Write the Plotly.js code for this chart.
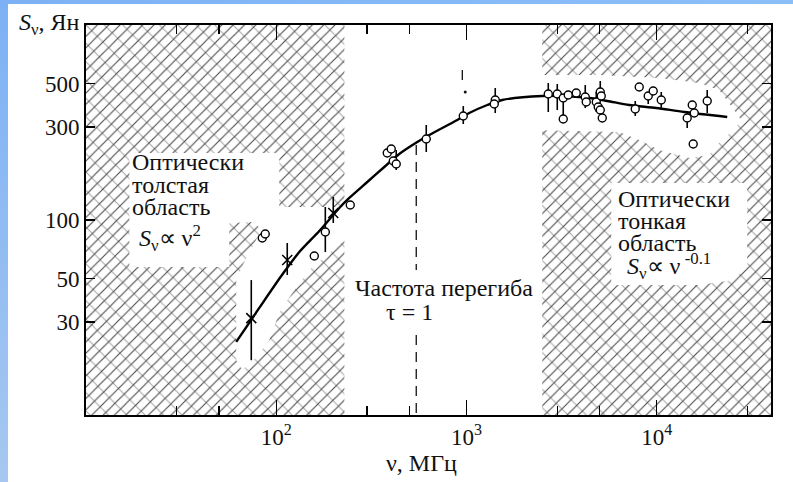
<!DOCTYPE html>
<html>
<head>
<meta charset="utf-8">
<script src="https://cdn.plot.ly/plotly-3.0.1.min.js"></script>
<style>
html,body{margin:0;padding:0;}
body{
  width:793px;height:482px;overflow:hidden;
  background:
    linear-gradient(to bottom,#7db1f5,#a6c8f0) left top/8px 100% no-repeat,
    linear-gradient(to right,#7db1f5,#8cbff8) left top/100% 4px no-repeat,
    #ffffff;
}
#chart{width:793px;height:482px;}
</style>
</head>
<body>
<div id="chart"></div>
<script>
// ---------- data (ν in MHz, S in Jy) ----------
// fitted spectrum curve
const curveNu = [61.6, 81.4, 106.2, 132.1, 168.3, 214.4, 241.9, 300.8, 369.5, 442.9, 550.8, 636.8, 893.7, 1033, 1285, 1540, 2499, 3070, 4414, 5489, 7161, 9929, 13930, 23440];
const curveS  = [23.7, 35.4, 51.6, 68.5, 87.8, 115.2, 129.7, 156.6, 187.0, 218.1, 251.2, 272.9, 325.7, 353.8, 388.8, 412.6, 432.4, 432.4, 422.3, 407.7, 388.8, 375.4, 358, 337.5];

// circle measurements
const circNu = [84.4, 87.5, 158.4, 181, 244.8, 383, 402, 412, 427, 614, 961, 1415, 1398, 2688, 2997, 3222, 3422, 3222, 3771, 4205, 4256, 4805, 5043, 5104, 4920, 5043, 5167, 7700, 8080, 9010, 9570, 10550, 15350, 15730, 14440, 18400, 15530];
const circS  = [80.9, 84.8, 65.4, 86.8, 119.4, 220.6, 231.3, 200.7, 193.8, 260.3, 341.6, 412.6, 393.5, 442.8, 442.8, 422.3, 437.5, 329.6, 448, 427, 402.9, 402.9, 453.4, 432.4, 379.8, 366.6, 333.5, 371, 481, 432.4, 458.7, 412.6, 388.8, 353.8, 333.5, 407.7, 245.3];
// error bar upper / lower limits (null = no bar on that side)
const circHi = [null, null, null, 116.6, null, null, null, null, 228.6, 307, 384, 475, null, 504, 498, null, null, 427, null, 492.4, null, 453.4, 516, null, null, null, null, 407.7, null, null, null, 453.4, null, null, 362.4, 464.2, null];
const circLo = [null, null, null, 68.5, null, null, null, null, 180.5, 223.3, 310.7, 353.8, null, 358, 366.6, null, null, null, null, 375.4, null, 358, null, null, null, null, null, 341.6, null, 393.5, null, 375.4, null, null, 296.4, 353.8, null];

// cross measurements
const crossNu = [73.9, 114.2, 199.3];
const crossS  = [31.4, 62.4, 108.6];
const crossHi = [49.2, 76.2, 131.2];
const crossLo = [19.1, 52.2, 96.5];

// turnover frequency (τ = 1) marker
const turnNu = [544, 544, null, 544, 544];
const turnS  = [242.4, 55.4, null, 25.7, 10];
const markNu = [950, 950];
const markS  = [588, 522];
const dotNu = [984];
const dotS  = [453];

// shaded regions (optically thick, left; optically thin, right)
const thickRegionNu = [10, 228, 228, 10];
const thickRegionS  = [10, 10, 1000, 1000];
const thickClearNu = [16.9, 103.7, 103.7, 230.5, 230.5, 154.6, 127.4, 103.7, 91.9, 78.5, 66.3, 61.6, 61.6, 67.9, 83.4, 76.6, 56.6, 56.6, 16.9];
const thickClearS  = [220.6, 220.6, 116.6, 116.6, 79.0, 57.4, 45.3, 33.4, 24.2, 19.8, 17.0, 19.1, 49.2, 60.9, 88.9, 97.7, 96.5, 57.4, 57.4];

const thinRegionNu = [2499, 40000, 40000, 2499];
const thinRegionS  = [10, 10, 1000, 1000];
const thinChannelNu = [2135, 4981, 10295, 16700, 21280, 25510, 27770, 25510, 21800, 18860, 14800, 10295, 8080, 6344, 2135];
const thinChannelS  = [554, 554, 534.8, 504.1, 464.2, 366.6, 325.7, 289.4, 257.2, 215.4, 207.9, 228.6, 257.2, 282.7, 289.4];
const thinBoxNu = [5760, 29870, 29870, 25510, 16700, 5760];
const thinBoxS  = [154.8, 154.8, 58.8, 49.2, 46.4, 46.4];

// axis ticks
const xMajor = [100, 1000, 10000];
const xMajorText = ['10<sup>2</sup>', '10<sup>3</sup>', '10<sup>4</sup>'];
const xMinor = [30, 50, 300, 500, 3000, 5000, 30000];
const yTicks = [30, 50, 100, 300, 500];
const yTickText = ['30', '50', '100', '300', '500'];

// ---------- helpers ----------
const diffUp = (v, hi) => v.map((y, i) => hi[i] == null ? 0 : hi[i] - y);
const diffDn = (v, lo) => v.map((y, i) => lo[i] == null ? 0 : y - lo[i]);

const FONT = '"Liberation Serif", "Times New Roman", serif';
const hatchA = {shape: '/', size: 8, solidity: 0.14, fgcolor: '#4a4a4a', bgcolor: 'white'};
const hatchB = {shape: '\\', size: 13, solidity: 0.08, fgcolor: '#4a4a4a', bgcolor: 'rgba(0,0,0,0)', fillmode: 'overlay'};

const region = (x, y, pat) => ({x: x, y: y, mode: 'none', fill: 'toself', fillcolor: pat.fillmode === 'overlay' ? 'rgba(0,0,0,0)' : 'white', fillpattern: pat, hoverinfo: 'skip', showlegend: false});
const clear = (x, y) => ({x: x, y: y, mode: 'none', fill: 'toself', fillcolor: 'white', hoverinfo: 'skip', showlegend: false});

const traces = [
  region(thickRegionNu, thickRegionS, hatchA),
  region(thickRegionNu, thickRegionS, hatchB),
  region(thinRegionNu, thinRegionS, hatchA),
  region(thinRegionNu, thinRegionS, hatchB),
  clear(thickClearNu, thickClearS),
  clear(thinChannelNu, thinChannelS),
  clear(thinBoxNu, thinBoxS),
  {x: turnNu, y: turnS, mode: 'lines', line: {color: '#111', width: 1.3, dash: '10px,7px'}, connectgaps: false, hoverinfo: 'skip', showlegend: false},
  {x: markNu, y: markS, mode: 'lines', line: {color: '#111', width: 1.3}, hoverinfo: 'skip', showlegend: false},
  {x: dotNu, y: dotS, mode: 'markers', marker: {color: '#111', size: 3}, hoverinfo: 'skip', showlegend: false},
  {x: curveNu, y: curveS, mode: 'lines', line: {color: '#000', width: 2.4, shape: 'spline', smoothing: 0.8}, hoverinfo: 'skip', showlegend: false},
  {x: crossNu, y: crossS, mode: 'markers',
   marker: {symbol: 'x-thin-open', size: 10, color: '#000', line: {color: '#000', width: 1.5}},
   error_y: {type: 'data', symmetric: false, array: diffUp(crossS, crossHi), arrayminus: diffDn(crossS, crossLo), color: '#000', thickness: 1.6, width: 0},
   showlegend: false},
  {x: circNu, y: circS, mode: 'markers',
   marker: {symbol: 'circle', size: 8, color: 'white', line: {color: '#000', width: 1.4}},
   error_y: {type: 'data', symmetric: false, array: diffUp(circS, circHi), arrayminus: diffDn(circS, circLo), color: '#000', thickness: 1.6, width: 0},
   showlegend: false}
];

// pixel -> paper (plot area 86..771 x 25..415)
const L = 86, T = 25, W = 685, H = 390;
const px = x => (x - L) / W;
const py = y => 1 - (y - T) / H;
const txt = (text, x, y, xa, size) => ({
  text: text, xref: 'paper', yref: 'paper', x: px(x), y: py(y),
  xanchor: xa || 'left', yanchor: 'middle', showarrow: false, borderpad: 0,
  font: {family: FONT, size: size || 24, color: '#111'}
});

const annotations = [
  txt('<i>S</i><sub>ν</sub>, Ян', 81, 24, 'right', 24),
  txt('ν, МГц', 421, 463, 'center', 24),
  txt('Оптически', 131, 162),
  txt('толстая', 131, 185),
  txt('область', 131, 207),
  txt('<i>S</i><sub>ν</sub>∝ ν<sup>2</sup>', 138, 238),
  txt('Частота перегиба', 354, 288),
  txt('τ = 1', 385, 312),
  txt('Оптически', 617, 199),
  txt('тонкая', 617, 221),
  txt('область', 617, 243),
  txt('<i>S</i><sub>ν</sub>∝ ν<sup> -0.1</sup>', 626, 266)
];

const layout = {
  width: 793, height: 482,
  margin: {l: L, r: 793 - L - W, t: T, b: 482 - T - H},
  paper_bgcolor: 'rgba(0,0,0,0)',
  plot_bgcolor: 'white',
  showlegend: false,
  xaxis: {
    type: 'log', range: [1, 4.6], showgrid: false, zeroline: false,
    showline: true, linecolor: '#000', linewidth: 2, mirror: 'ticks',
    ticks: 'inside', ticklen: 15, tickwidth: 1.3, tickcolor: '#000',
    tickmode: 'array', tickvals: xMajor, ticktext: xMajorText,
    tickfont: {family: FONT, size: 23, color: '#111'},
    minor: {tickmode: 'array', tickvals: xMinor, ticks: 'inside', ticklen: 9, tickwidth: 1.2, tickcolor: '#000', showgrid: false}
  },
  yaxis: {
    type: 'log', range: [1, 3], showgrid: false, zeroline: false,
    showline: true, linecolor: '#000', linewidth: 2, mirror: 'ticks',
    ticks: 'inside', ticklen: 9, tickwidth: 1.3, tickcolor: '#000',
    tickmode: 'array', tickvals: yTicks, ticktext: yTickText,
    tickfont: {family: FONT, size: 23, color: '#111'}
  },
  annotations: annotations
};

Plotly.newPlot('chart', traces, layout, {staticPlot: true, displayModeBar: false});
</script>
</body>
</html>
